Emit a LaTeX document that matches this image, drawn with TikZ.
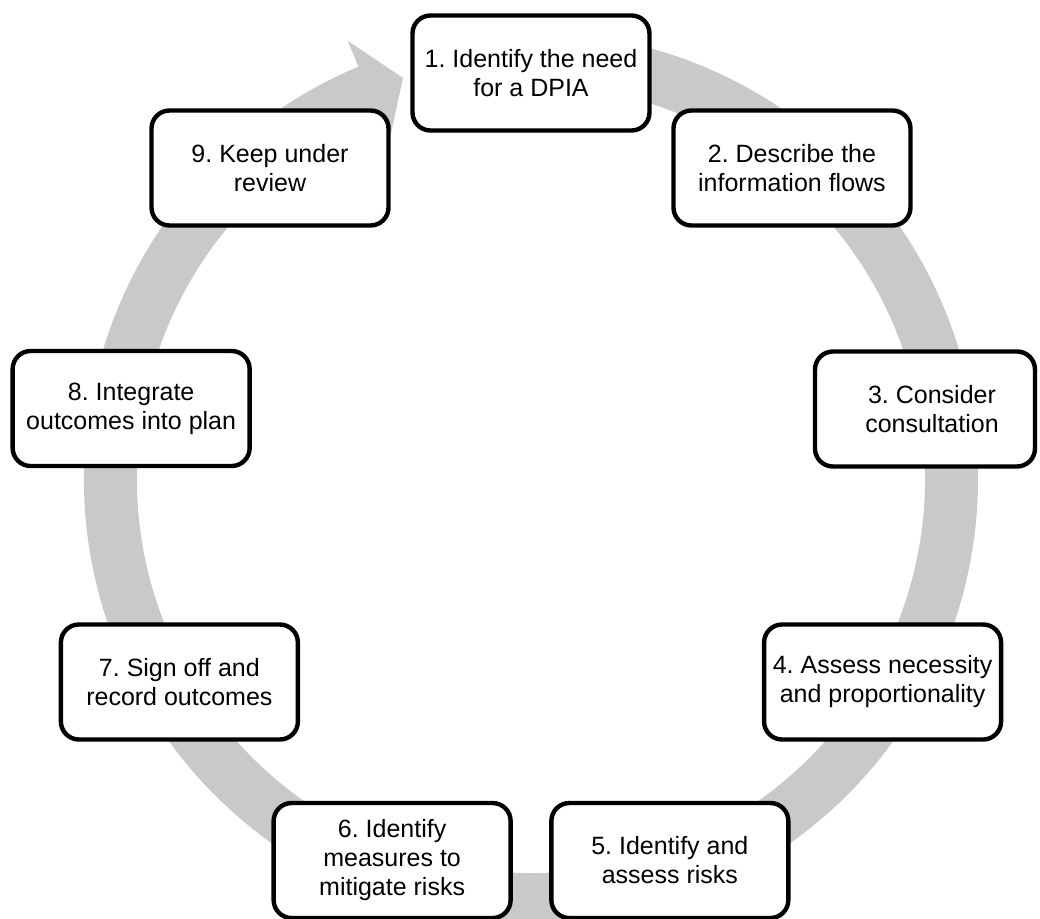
\documentclass[tikz,border=0pt]{standalone}
\usepackage{fontspec}
\setmainfont{Liberation Sans}
\usepackage{tikz}
\definecolor{ringgrey}{RGB}{201,201,201}
\frenchspacing
\tikzset{
    stepbox/.style={draw=black, line width=2.2pt, fill=white, rounded corners=9pt,
        minimum width=118.5pt, minimum height=57.5pt, align=center, inner sep=2pt,
        font=\fontsize{12.5}{14.5}\selectfont}
}

\begin{document}
\begin{tikzpicture}[x=0.5pt,y=0.5pt]
    %%% DPIA CYCLE %%%
    \clip (-531,-439) rectangle (509,479);
    % ring and arrow head %
    \fill[ringgrey] (80:447) arc[start angle=80,end angle=-247.3,radius=447]
        -- (-247.3:475) -- (-252.3:421) -- (-247.3:367) -- (-247.3:394)
        arc[start angle=-247.3,end angle=80,radius=394] -- cycle;
    % steps %
    \node[stepbox] (identify) at (90:406) {1. Identify the need\\for a DPIA};
    \node[stepbox] (describe) at (50:406) {2. Describe the\\information flows};
    \node[stepbox,minimum width=110pt,text depth=0pt] (consult) at (394,70) {\hspace*{7pt}3. Consider\\\hspace*{7pt}consultation};
    \node[stepbox] (assess) at (-30:406) {4. Assess necessity\\and proportionality};
    \node[stepbox] (risks) at (-70:406) {5. Identify and\\assess risks};
    \node[stepbox] (measures) at (-110:406) {6. Identify\\measures to\\mitigate risks};
    \node[stepbox] (signoff) at (-150:406) {7. Sign off and\\record outcomes};
    \node[stepbox] (integrate) at (170:406) {8. Integrate\\outcomes into plan};
    \node[stepbox] (review) at (130:406) {9. Keep under\\review};
\end{tikzpicture}
\end{document}
